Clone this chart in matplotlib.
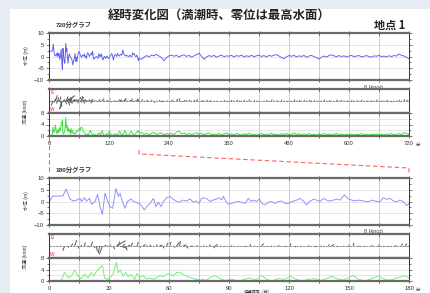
import numpy as np
import matplotlib
matplotlib.use("Agg")
import matplotlib.pyplot as plt
from matplotlib.patches import Rectangle
from matplotlib.lines import Line2D
from matplotlib.ticker import MultipleLocator

plt.rcParams['font.family'] = ['Liberation Sans', 'Noto Sans CJK JP']

W, H = 430, 293

# --- 水位 (m): 先頭180分 (時刻, 値) ---
t_180 = [0, 0.5, 1.7, 4, 7, 8.5, 10.5, 12, 13.8, 15.5, 16.3, 17.7, 18.8, 20.2, 21.3, 23,
         24.3, 25.5, 26.7, 28, 29.3, 30.5, 31.8, 33.5, 34.7, 35.5, 36.7, 38, 39.3, 41,
         42.2, 43.3, 45, 46.3, 47.7, 49.3, 50.5, 52.2, 53.5, 54.7, 56, 57.2, 58.8, 60.5,
         62, 64, 65, 67, 68.8, 70.5, 72.2, 73.5, 75, 76.3, 77.5, 79, 80.5, 82, 84, 85.2,
         86.3, 87.2, 88.5, 89.7, 91.3, 93, 94.7, 96.3, 98, 99.7, 101, 102.2, 103.8, 105.2,
         106.3, 108, 109.7, 111.3, 113, 114.7, 116.3, 118, 119.7, 121.3, 123.8, 125.5,
         127.2, 128.8, 130.5, 132.2, 133.8, 135.5, 137.2, 138.8, 140.5, 142.2, 143.8,
         145.5, 147.7, 149.3, 151.3, 153, 154.7, 157.2, 159.7, 161.3, 163, 165.5, 167.2,
         168.8, 170.5, 172.2, 173.8, 175.5, 177.2, 178.8, 180]
level_180 = [0.0, 0.2, 2.3, 2.3, 2.4, 5.3, 1.1, 0.2, 0.6, 1.3, 0.0, 1.6, 0.2, 1.3, -1.2, 0.0,
             3.1, -2.2, -5.5, 3.5, 0.2, -2.2, -2.9, 5.6, 2.1, 3.5, 0.0, -2.9, 0.0, 1.1,
             0.0, -0.3, -0.8, -1.8, -3.6, -1.8, -0.8, 1.3, -2.2, -0.3, -2.2, 0.0, 1.6, 2.1,
             1.0, 0.0, -0.3, 0.6, 0.2, 1.1, -0.3, 0.2, -0.8, 1.3, 1.6, 1.1, 0.0, 0.6, 1.1, 1.6,
             0.6, 2.2, 0.0, -1.2, -0.8, -0.3, 0.0, -0.3, -0.8, 1.3, 0.0, 0.6, 0.0, 1.1,
             -0.8, -1.5, -0.3, 0.0, -0.8, 0.0, 0.2, -0.8, -0.8, -0.1, 0.6, 1.3,
             0.2, -1.5, 0.2, 0.9, 0.6, 0.0, 1.3, 0.6, 0.2, 0.6, 1.0,
             0.6, 2.8, 1.3, 0.6, 0.2, 0.6, 0.2, -0.1, 0.6, 0.2, -0.1, 1.6,
             0.9, 1.3, 0.2, -0.1, 0.6, -0.1, -1.8, -0.8]

# --- 水位 (m): 185〜720分 (5分毎) ---
t_tail = np.arange(185, 721, 5)
level_tail = [-1.2, -0.3, 0.4, -0.2, 0.6, 0.3, 0.9, 0.2, -0.4, -1.8, -0.5, 0.3,
              0.6, 0.1, 0.5, -0.2, 0.4, 0.7, 0.0, 0.5, -0.3, 0.3, 0.8, 1.4,
              0.2, -1.2, -0.2, 0.4, 0.0, 0.5, -0.3, 0.2, 0.6, -0.1, 0.3, 0.1,
              0.5, -0.2, 0.4, 0.1, 0.6, -0.2, 0.3, 0.0, 0.5, -0.1, 0.3, 0.6,
              0.0, 0.4, -0.2, 0.5, 0.1, 0.6, 0.8, 0.2, -0.4, -0.9, -0.1, 0.4,
              0.1, 0.5, -0.2, 0.3, 0.0, 0.5, -0.3, 0.2, 0.5, -0.1, -0.4, -1.1,
              -0.3, 0.2, -0.2, 0.4, 0.7, 0.3, -0.1, 0.4, 0.0, 0.3, -0.2, 0.2,
              0.5, -0.1, 0.2, 0.4, -0.2, 0.1, 0.4, 0.0, -0.3, 0.3, 0.1, 0.5,
              -0.1, 0.2, -0.2, 0.3, 0.0, 0.4, 0.2, 1.1, 0.5, 0.2, -0.3, -1.0]

# --- 流速 (knot) と流向 (度): 先頭180分 ---
ts_180 = [0, 6, 7.8, 9.5, 11.2, 12.8, 14.5, 16, 17.8, 19.5, 21, 22.3, 23.7, 25.3, 26.7,
          27.8, 29, 30.3, 32, 33.7, 34.5, 35.7, 37, 38.3, 39.5, 41, 42.8, 44, 45.3, 47,
          48.7, 50.3, 52, 53.7, 55.3, 57, 58.7, 60.3, 62, 63.7, 65.3, 67, 68.7, 71, 73.7,
          75.3, 77, 78.7, 80.3, 82, 83, 85.5, 88, 91.3, 94.7, 98, 100.5, 103, 106.3,
          108.8, 111.3, 114.7, 118, 120.5, 123, 126.3, 129.7, 133, 136.3, 139.7, 141.3,
          143.8, 147, 149.7, 152, 154.7, 158, 161.3, 164.7, 167.2, 170, 173, 176.3, 178,
          179.7]
speed_180 = [0, 0, 3.1, 1.1, 1.7, 3.8, 1.7, 0.8, 2.3, 1.1, 2.9, 1.7, 3.4, 4.6, 5.4,
             1.1, 0.6, 1.1, 2.3, 6.5, 2.9, 3.8, 1.7, 2.9, 1.5, 2.3, 0.6, 2.6, 1.1, 1.9,
             0.8, 1.1, 0.6, 1.1, 1.9, 1.5, 2.3, 2.6, 1.7, 2.9, 3.1, 2.3, 1.7, 1.1, 0.6,
             0.3, 0.6, 0.2, 1.1, 1.7, 1.9, 0.8, 0.2, 0.6, 0.0, 0.6, 1.1, 0.3, 1.9,
             0.6, 0.0, 0.8, 0.6, 1.7, 0.8, 0.0, 0.6, 0.8, 0.2, 1.1, 1.7,
             0.8, 0.3, 1.1, 1.9, 0.6, 0.0, 0.8, 1.7, 0.8, 0.3, 0.8, 1.5, 1.9,
             1.1]
dir_180 = [90, 90, 200, 150, 30, 20, 160, 60, 10, 120, 20, 140, 170, 190, 200,
           60, 100, 30, 150, 60, 20, 110, 40, 160, 70, 30, 120, 20, 150, 60,
           100, 40, 130, 20, 70, 160, 30, 20, 120, 40, 10, 70, 150, 100, 60,
           120, 80, 100, 30, 140, 60, 110, 80, 30, 90, 150, 20, 100, 40,
           130, 90, 60, 120, 20, 150, 90, 70, 140, 100, 30, 60,
           130, 80, 40, 20, 110, 90, 50, 30, 140, 80, 60, 20, 40,
           120]

# --- 流速 / 流向: 185〜720分 (5分毎) ---
speed_tail = [1.2, 0.6, 1.0, 0.4, 0.9, 1.3, 0.5, 0.8, 1.1, 0.4, 0.9, 0.6,
              1.0, 0.5, 1.4, 1.7, 0.8, 1.1, 0.5, 0.9, 0.4, 0.8, 1.2, 0.6,
              1.0, 0.5, 0.8, 1.1, 0.4, 0.7, 0.5, 0.9, 0.3, 0.7, 1.0, 0.5,
              0.8, 0.4, 0.9, 0.6, 0.3, 0.8, 0.5, 1.0, 0.4, 0.7, 0.3, 0.6,
              0.9, 0.4, 0.7, 0.5, 1.0, 0.4, 0.6, 0.3, 0.8, 0.5, 0.9, 0.4,
              0.6, 1.1, 0.5, 0.8, 0.3, 0.7, 0.5, 0.9, 0.4, 0.6, 0.3, 0.8,
              0.5, 0.9, 0.4, 0.7, 0.3, 0.6, 0.9, 0.4, 0.7, 0.3, 0.6, 0.4,
              0.8, 0.3, 0.6, 0.5, 0.9, 0.4, 0.7, 0.3, 0.6, 0.5, 0.8, 0.4,
              0.6, 0.3, 0.7, 0.5, 0.9, 0.4, 0.6, 0.8, 0.5, 1.2, 0.9, 0.5]
dir_tail = [40, 130, 70, 110, 30, 150, 80, 60, 120, 20, 100, 140,
            50, 90, 30, 20, 130, 70, 110, 40, 150, 60, 30, 120,
            80, 140, 40, 100, 60, 130, 20, 90, 150, 50, 110, 70,
            30, 120, 60, 100, 140, 40, 80, 20, 130, 70, 110, 50,
            90, 150, 40, 120, 30, 100, 60, 140, 20, 80, 130, 50,
            110, 40, 90, 60, 150, 30, 120, 70, 100, 40, 140, 60,
            80, 30, 120, 50, 100, 140, 40, 90, 20, 130, 70, 110,
            40, 150, 60, 100, 30, 120, 80, 140, 50, 90, 20, 130,
            70, 110, 40, 90, 150, 60, 100, 30, 120, 20, 50, 80]

LEVEL_C = ['#5c5cf0', '#8a8aff']
SPEED_C = ['#3fe03f', '#7aee7a']
STICK_SCALE = 8 / 0.13  # 8 knot = 0.13 inch


def box(left, top, width, height):
    return [left / W, 1 - (top + height) / H, width / W, height / H]


def fx(x):
    return x / W


def fy(y):
    return 1 - y / H


def style(ax, xmax, xstep):
    ax.set_xlim(0, xmax)
    ax.xaxis.set_major_locator(MultipleLocator(xstep))
    ax.grid(axis='x', color='#c4c4c4', lw=0.6)
    ax.tick_params(axis='x', which='both', top=True, bottom=True, direction='inout',
                   length=2.5, width=0.6, color='#444', labelbottom=False, labelsize=4.2,
                   labelcolor='#333', pad=2)
    ax.tick_params(axis='y', which='both', left=True, right=True, direction='out',
                   width=0.5, color='#444', labelsize=4.2, labelcolor='#333', pad=1.5)
    ax.tick_params(axis='y', which='major', length=2)
    ax.tick_params(axis='y', which='minor', length=1.2)
    for s in ['top', 'bottom']:
        ax.spines[s].set_linewidth(1.6)
        ax.spines[s].set_color('#6a6a6a')
    for s in ['left', 'right']:
        ax.spines[s].set_linewidth(0.7)
        ax.spines[s].set_color('#333')


def graph(fig, top, t_lv, lv, t_sp, sp, dr, xmax, xstep, n):
    # 水位
    ax1 = fig.add_axes(box(49, top, 360, 47))
    style(ax1, xmax, xstep)
    ax1.set_ylim(-10, 10)
    ax1.set_yticks([-10, -5, 0, 5, 10])
    ax1.yaxis.set_minor_locator(MultipleLocator(2.5))
    ax1.tick_params(axis='y', labelright=False)
    for yv in [-5, 0, 5]:
        ax1.axhline(yv, color='#e2e2e2', lw=0.6, zorder=0)
    ax1.plot(t_lv, lv, color=LEVEL_C[n], lw=0.65)

    # 流向 (スティック)
    ax2 = fig.add_axes(box(49, top + 56, 360, 24))
    style(ax2, xmax, xstep)
    ax2.set_ylim(-1, 1)
    ax2.set_yticks([])
    ax2.axhline(0, color='#808080', lw=0.6, ls=(0, (3, 1)))
    rad = np.deg2rad(dr)
    u = np.asarray(sp) * np.sin(rad)
    v = np.asarray(sp) * np.cos(rad)
    q = ax2.quiver(t_sp, np.zeros(len(t_sp)), u, v, angles='uv', scale_units='inches',
                   scale=STICK_SCALE, pivot='tail', headwidth=0, headlength=0,
                   headaxislength=0, width=0.0026, color='#505050')
    ax2.quiverkey(q, fx(361), fy(top + 54), 8, '8 (knot)', labelpos='E',
                  coordinates='figure', color='#9a9a9a', labelsep=0.03,
                  fontproperties={'size': 4}, labelcolor='#444')
    ax2.text(0.004, 0.86, 'E', transform=ax2.transAxes, color='#ff5a8a', fontsize=3.5,
             ha='left', va='center', fontweight='bold')
    ax2.text(0.004, 0.13, 'W', transform=ax2.transAxes, color='#ff5a8a', fontsize=3.5,
             ha='left', va='center', fontweight='bold')

    # 流速
    ax3 = fig.add_axes(box(49, top + 80, 360, 23))
    style(ax3, xmax, xstep)
    ax3.set_ylim(0, 8)
    ax3.set_yticks([0, 4, 8])
    ax3.yaxis.set_minor_locator(MultipleLocator(2))
    ax3.tick_params(axis='y', labelright=False)
    for yv in [2, 4, 6]:
        ax3.axhline(yv, color='#e2e2e2', lw=0.6, zorder=0)
    ax3.plot(t_sp, sp, color=SPEED_C[n], lw=0.7)
    ax3.tick_params(axis='x', labelbottom=True)
    labs = [str(int(v)) if i % 2 == 0 else '' for i, v in
            enumerate(np.arange(0, xmax + 1, xstep))]
    ax3.set_xticks(np.arange(0, xmax + 1, xstep))
    ax3.set_xticklabels(labs)
    ax3.annotate('分', (xmax, 0), xycoords='data', xytext=(5, -6.2),
                 textcoords='offset points', fontsize=3.2, color='#333', va='center')

    fig.text(fx(26), fy(top + 23), '水位 (m)', rotation=90, fontsize=3.6, color='#333',
             ha='center', va='center')
    fig.text(fx(26), fy(top + 79), '流速 (knot)', rotation=90, fontsize=3.6, color='#333',
             ha='center', va='center')
    return ax1


fig = plt.figure(figsize=(W / 100, H / 100), dpi=100, facecolor='#e8ecf5')
fig.patches.append(Rectangle((fx(10), 0), 1 - fx(10), fy(9), transform=fig.transFigure,
                             facecolor='white', edgecolor='none', zorder=-10))

t_all = list(t_180) + list(t_tail)
graph(fig, 33, t_all, level_180 + level_tail, list(ts_180) + list(t_tail),
      speed_180 + speed_tail, dir_180 + dir_tail, 720, 60, 0)
graph(fig, 178, t_180, level_180, ts_180, speed_180, dir_180, 180, 15, 1)

fig.text(fx(219), fy(15), '経時変化図（満潮時、零位は最高水面）', fontsize=8.9, color='#222',
         ha='center', va='center', fontweight='bold', family=['Noto Sans CJK JP'])
fig.text(fx(390), fy(25), '地点 1', fontsize=8, color='#222', ha='center', va='center',
         fontweight='bold', family=['Noto Sans CJK JP'])
fig.text(fx(56), fy(25), '720分グラフ', fontsize=4.6, color='#333', ha='left',
         va='center', fontweight='bold')
fig.text(fx(56), fy(170), '180分グラフ', fontsize=4.6, color='#333', ha='left',
         va='center', fontweight='bold')
fig.text(fx(258), fy(293), '経過時間（分）', fontsize=3, color='#333', ha='center',
         va='bottom')

# 拡大範囲を示す破線
red = dict(color='#ff6060', lw=0.8, ls=(0, (4, 2.5)), transform=fig.transFigure)
fig.add_artist(Line2D([fx(49), fx(49)], [fy(138), fy(174)], **red))
fig.add_artist(Line2D([fx(139), fx(139), fx(409), fx(409)],
                      [fy(150), fy(154), fy(168), fy(173)], **red))

fig.savefig('out.png', dpi=100, facecolor=fig.get_facecolor())
